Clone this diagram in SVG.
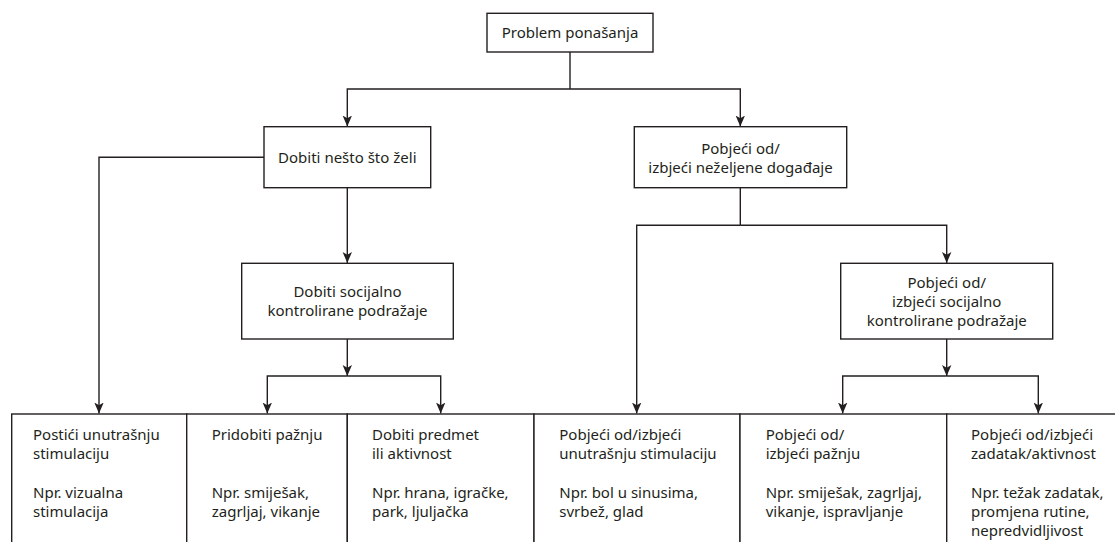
<svg xmlns="http://www.w3.org/2000/svg" width="1115" height="542" viewBox="0 0 1115 542">
<defs>
<style>
.box{fill:#fff;stroke:#231f20;stroke-width:1.4}
.ln{fill:none;stroke:#231f20;stroke-width:1.4}
text{font-family:"Noto Sans","Open Sans","Liberation Sans",sans-serif;font-size:15px;fill:#231f20}
.c{text-anchor:middle}
</style>
<marker id="ah" markerUnits="userSpaceOnUse" markerWidth="12" markerHeight="12" viewBox="0 0 12 12" refX="11" refY="6" orient="auto">
<path d="M0,1.3 L11,6 L0,10.7 L2.8,6 Z" fill="#231f20"/>
</marker>
</defs>
<g id="connectors">
<path class="ln" d="M570,52 V89"/>
<path class="ln" d="M570,89 H347.3 V126.5" marker-end="url(#ah)"/>
<path class="ln" d="M570,89 H740.3 V126.5" marker-end="url(#ah)"/>
<path class="ln" d="M264,157.3 H99 V413.5" marker-end="url(#ah)"/>
<path class="ln" d="M347.3,188 V263" marker-end="url(#ah)"/>
<path class="ln" d="M347.3,339 V376" marker-end="url(#ah)"/>
<path class="ln" d="M347.3,376 H267.3 V413.5" marker-end="url(#ah)"/>
<path class="ln" d="M347.3,376 H440.7 V413.5" marker-end="url(#ah)"/>
<path class="ln" d="M740.3,188 V225.3"/>
<path class="ln" d="M740.3,225.3 H636.7 V413.5" marker-end="url(#ah)"/>
<path class="ln" d="M740.3,225.3 H946.7 V263" marker-end="url(#ah)"/>
<path class="ln" d="M946.7,339 V376" marker-end="url(#ah)"/>
<path class="ln" d="M946.7,376 H842.7 V413.5" marker-end="url(#ah)"/>
<path class="ln" d="M946.7,376 H1038.3 V413.5" marker-end="url(#ah)"/>
</g>
<g id="n-problem">
<rect class="box" x="487" y="13.3" width="166" height="38.7"/>
<text class="c" x="570" y="37.5">Problem ponašanja</text>
</g>
<g id="n-dobiti">
<rect class="box" x="264" y="126.7" width="166.7" height="61"/>
<text class="c" x="347.3" y="162.5">Dobiti nešto što želi</text>
</g>
<g id="n-pobjeci">
<rect class="box" x="634.3" y="126.7" width="212.4" height="61"/>
<text class="c" x="740.5" y="153.5">Pobjeći od/</text>
<text class="c" x="740.5" y="172.5">izbjeći neželjene događaje</text>
</g>
<g id="n-dobiti-soc">
<rect class="box" x="241.7" y="263.3" width="211.6" height="75.7"/>
<text class="c" x="347.5" y="296.7">Dobiti socijalno</text>
<text class="c" x="347.5" y="315.7">kontrolirane podražaje</text>
</g>
<g id="n-pobjeci-soc">
<rect class="box" x="840.7" y="263.3" width="212" height="75.7"/>
<text class="c" x="946.7" y="287.5">Pobjeći od/</text>
<text class="c" x="946.7" y="306.5">izbjeći socijalno</text>
<text class="c" x="946.7" y="325.5">kontrolirane podražaje</text>
</g>
<g id="n-b1">
<rect class="box" x="11.7" y="414" width="175" height="150"/>
<text x="33" y="440">Postići unutrašnju</text>
<text x="33" y="459">stimulaciju</text>
<text x="33" y="497.5">Npr. vizualna</text>
<text x="33" y="516.5">stimulacija</text>
</g>
<g id="n-b2">
<rect class="box" x="186.7" y="414" width="160.6" height="150"/>
<text x="211.7" y="440">Pridobiti pažnju</text>
<text x="211.7" y="497.5">Npr. smiješak,</text>
<text x="211.7" y="516.5">zagrljaj, vikanje</text>
</g>
<g id="n-b3">
<rect class="box" x="347.3" y="414" width="186.7" height="150"/>
<text x="372" y="440">Dobiti predmet</text>
<text x="372" y="459">ili aktivnost</text>
<text x="372" y="497.5">Npr. hrana, igračke,</text>
<text x="372" y="516.5">park, ljuljačka</text>
</g>
<g id="n-b4">
<rect class="box" x="534" y="414" width="206" height="150"/>
<text x="559.3" y="440">Pobjeći od/izbjeći</text>
<text x="559.3" y="459">unutrašnju stimulaciju</text>
<text x="559.3" y="497.5">Npr. bol u sinusima,</text>
<text x="559.3" y="516.5">svrbež, glad</text>
</g>
<g id="n-b5">
<rect class="box" x="740" y="414" width="206.7" height="150"/>
<text x="765.7" y="440">Pobjeći od/</text>
<text x="765.7" y="459">izbjeći pažnju</text>
<text x="765.7" y="497.5">Npr. smiješak, zagrljaj,</text>
<text x="765.7" y="516.5">vikanje, ispravljanje</text>
</g>
<g id="n-b6">
<rect class="box" x="946.7" y="414" width="180" height="150"/>
<text x="971" y="440">Pobjeći od/izbjeći</text>
<text x="971" y="459">zadatak/aktivnost</text>
<text x="971" y="497.5">Npr. težak zadatak,</text>
<text x="971" y="516.5">promjena rutine,</text>
<text x="971" y="535.5">nepredvidljivost</text>
</g>
</svg>
